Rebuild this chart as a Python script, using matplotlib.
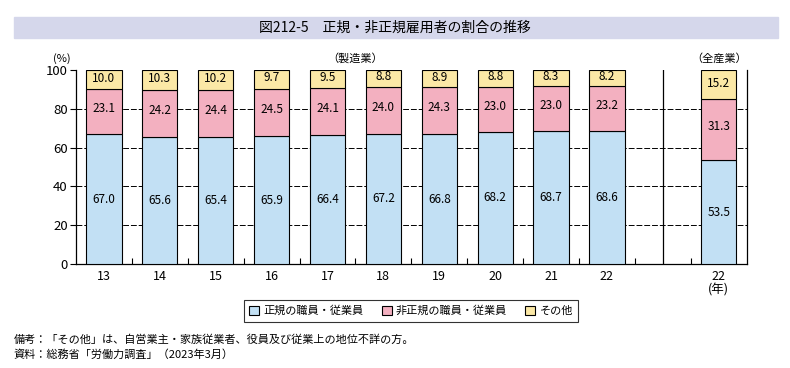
import matplotlib.pyplot as plt
from matplotlib.patches import Patch, Rectangle

plt.rcParams['font.family'] = ['Noto Sans CJK JP', 'DejaVu Sans']

years = ['13', '14', '15', '16', '17', '18', '19', '20', '21', '22', '22\n(年)']
regular = [67.0, 65.6, 65.4, 65.9, 66.4, 67.2, 66.8, 68.2, 68.7, 68.6, 53.5]
nonregular = [23.1, 24.2, 24.4, 24.5, 24.1, 24.0, 24.3, 23.0, 23.0, 23.2, 31.3]
other = [10.0, 10.3, 10.2, 9.7, 9.5, 8.8, 8.9, 8.8, 8.3, 8.2, 15.2]
labels = ['正規の職員・従業員', '非正規の職員・従業員', 'その他']
colors = ['#c2e0f4', '#f3b0c0', '#fbe8a6']

# slots 0-9 manufacturing, 10 empty, 11 all industries
pos = list(range(10)) + [11]

fig = plt.figure(figsize=(7.9, 3.68), dpi=100)
ax = fig.add_axes([76 / 790, 1 - 264 / 368, (746.7 - 76) / 790, 194 / 368])

bottom2 = [a + b for a, b in zip(regular, nonregular)]
ax.bar(pos, regular, width=0.63, color=colors[0], edgecolor='black', linewidth=0.8, zorder=3)
ax.bar(pos, nonregular, width=0.63, bottom=regular, color=colors[1], edgecolor='black', linewidth=0.8, zorder=3)
ax.bar(pos, other, width=0.63, bottom=bottom2, color=colors[2], edgecolor='black', linewidth=0.8, zorder=3)

for x, r, n, o, b in zip(pos, regular, nonregular, other, bottom2):
    ax.text(x, r / 2, f'{r:.1f}', ha='center', va='center', fontsize=8.5, zorder=4)
    ax.text(x, r + n / 2 + 1.5, f'{n:.1f}', ha='center', va='center', fontsize=8.5, zorder=4)
    ax.text(x, min(b + o / 2, 100 - o / 2) + 0.8, f'{o:.1f}', ha='center', va='center', fontsize=8.5, zorder=4)

ax.set_xlim(-0.5, 11.5)
ax.set_ylim(0, 100)
ax.set_yticks([0, 20, 40, 60, 80, 100])
ax.tick_params(axis='y', direction='out', length=4, width=0.8, labelsize=9.5, pad=2)
ax.set_xticks(pos)
ax.set_xticklabels(years, fontsize=9, linespacing=1.1, va='top')
ax.tick_params(axis='x', which='major', length=0, pad=4)
ax.set_xticks([i + 0.5 for i in range(11)], minor=True)
ax.tick_params(axis='x', which='minor', direction='in', length=4, width=0.8)

for y in [20, 40, 60, 80]:
    ax.axhline(y, color='black', linewidth=0.7, linestyle=(0, (6, 2)), zorder=1)
ax.axvline(10, color='black', linewidth=0.9, zorder=2)

ax.spines['top'].set_visible(False)
for s in ['left', 'right', 'bottom']:
    ax.spines[s].set_linewidth(0.9)

ax.text(-0.75, 103, '(%)', ha='center', va='bottom', fontsize=8)
ax.text(4.5, 103, '（製造業）', ha='center', va='bottom', fontsize=8)
ax.text(11, 103, '（全産業）', ha='center', va='bottom', fontsize=8)

# title band
fig.patches.append(Rectangle((14 / 790, 1 - 38 / 368), 764 / 790, 21 / 368,
                             transform=fig.transFigure, color='#d5d7eb', zorder=0))
fig.text(0.5, 1 - 27.5 / 368, '図212-5　正規・非正規雇用者の割合の推移',
         ha='center', va='center', fontsize=10)

handles = [Patch(facecolor=c, edgecolor='black', linewidth=0.8) for c in colors]
leg = fig.legend(handles, labels, ncol=3, loc='center', bbox_to_anchor=(411 / 790, 1 - 311 / 368),
                 fontsize=8, frameon=True, fancybox=False, edgecolor='black',
                 handlelength=0.9, handleheight=0.9, handletextpad=0.4, columnspacing=1.6,
                 borderpad=0.5)
leg.get_frame().set_linewidth(0.8)

fig.text(14 / 790, 1 - 340 / 368, '備考：「その他」は、自営業主・家族従業者、役員及び従業上の地位不詳の方。',
         ha='left', va='center', fontsize=8)
fig.text(14 / 790, 1 - 355 / 368, '資料：総務省「労働力調査」（2023年3月）',
         ha='left', va='center', fontsize=8)

fig.savefig('out.png', dpi=100)
